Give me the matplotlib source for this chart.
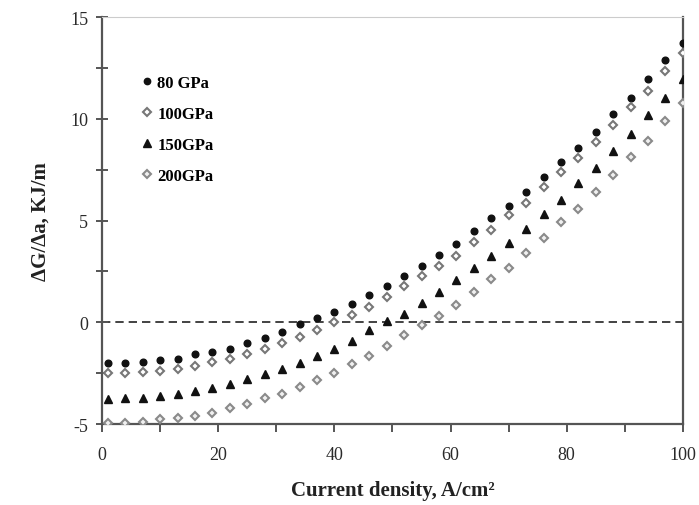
import matplotlib
matplotlib.use("Agg")
import matplotlib.pyplot as plt
from matplotlib.ticker import MultipleLocator

current_density = [1, 4, 7, 10, 13, 16, 19, 22, 25, 28, 31, 34, 37, 40, 43, 46, 49,
                   52, 55, 58, 61, 64, 67, 70, 73, 76, 79, 82, 85, 88, 91, 94, 97, 100]

g_80 = [-2.01, -2.01, -1.95, -1.85, -1.78, -1.57, -1.46, -1.29, -1.00, -0.78, -0.46,
        -0.10, 0.21, 0.51, 0.88, 1.32, 1.81, 2.30, 2.79, 3.30, 3.87, 4.48, 5.13, 5.74,
        6.39, 7.15, 7.86, 8.56, 9.38, 10.23, 11.04, 11.94, 12.89, 13.74]
g_100 = [-2.47, -2.47, -2.44, -2.39, -2.27, -2.17, -1.96, -1.81, -1.54, -1.29, -1.00,
         -0.72, -0.36, 0.02, 0.36, 0.77, 1.26, 1.78, 2.27, 2.78, 3.28, 3.96, 4.53, 5.26,
         5.87, 6.63, 7.37, 8.10, 8.86, 9.71, 10.57, 11.37, 12.37, 13.22]
g_150 = [-3.77, -3.74, -3.74, -3.64, -3.53, -3.37, -3.22, -3.04, -2.79, -2.52, -2.27,
         -1.98, -1.67, -1.29, -0.92, -0.38, 0.06, 0.42, 0.96, 1.51, 2.07, 2.65, 3.25,
         3.91, 4.61, 5.33, 6.03, 6.85, 7.58, 8.40, 9.25, 10.20, 11.01, 11.96]
g_200 = [-4.95, -4.95, -4.89, -4.75, -4.71, -4.59, -4.44, -4.22, -4.02, -3.74, -3.50,
         -3.17, -2.85, -2.47, -2.06, -1.65, -1.16, -0.64, -0.15, 0.33, 0.85, 1.49, 2.11,
         2.68, 3.42, 4.16, 4.94, 5.57, 6.41, 7.25, 8.15, 8.92, 9.92, 10.77]

labels = ["80 GPa", "100GPa", "150GPa", "200GPa"]

plt.rcParams['font.family'] = ['Liberation Serif', 'DejaVu Serif']
plt.rcParams['axes.unicode_minus'] = False

fig = plt.figure(figsize=(6.99, 5.06), dpi=100)
ax = fig.add_axes([0.146, 0.160, 0.831, 0.804])

ax.axhline(0, color='#222222', lw=1.2, ls=(0, (5, 3)), zorder=1)

ax.plot(current_density, g_80, ls='none', marker='o', ms=4.8, mfc='#111111',
        mec='#111111', label=labels[0], zorder=3)
ax.plot(current_density, g_100, ls='none', marker='D', ms=4.3, mfc='white',
        mec='#777777', mew=1.5, label=labels[1], zorder=3)
ax.plot(current_density, g_150, ls='none', marker='^', ms=5.5, mfc='#111111',
        mec='#111111', label=labels[2], zorder=3)
ax.plot(current_density, g_200, ls='none', marker='D', ms=4.2, mfc='#f0f0f0',
        mec='#8a8a8a', mew=1.5, label=labels[3], zorder=3)

ax.set_xlim(0, 100)
ax.set_ylim(-5, 15)
ax.xaxis.set_major_locator(MultipleLocator(20))
ax.xaxis.set_minor_locator(MultipleLocator(10))
ax.yaxis.set_major_locator(MultipleLocator(5))
ax.yaxis.set_minor_locator(MultipleLocator(2.5))

for side in ['left', 'bottom', 'right']:
    ax.spines[side].set_color('#555555')
    ax.spines[side].set_linewidth(1.6)
ax.spines['top'].set_color('#cccccc')
ax.spines['top'].set_linewidth(0.8)

ax.tick_params(axis='both', which='both', colors='#555555',
               labelcolor='#2a2a2a', labelsize=13)
ax.tick_params(axis='y', which='both', direction='inout', length=8, width=1.4, pad=6)
ax.tick_params(axis='x', which='both', direction='out', length=6, width=1.4, pad=10)
ax.tick_params(right=False, top=False)

ax.set_xlabel('Current density, A/cm²', fontsize=15, fontweight='bold',
              color='#222222', labelpad=12)
ax.set_ylabel('ΔG/Δa, KJ/m', fontsize=15, fontweight='bold', color='#222222',
              labelpad=14)

leg = ax.legend(loc='upper left', bbox_to_anchor=(0.045, 0.895), frameon=False,
                prop={'weight': 'bold', 'size': 12}, handlelength=0.5,
                handletextpad=0.35, labelspacing=0.9, markerscale=0.95)

fig.savefig('out.png', dpi=100)
